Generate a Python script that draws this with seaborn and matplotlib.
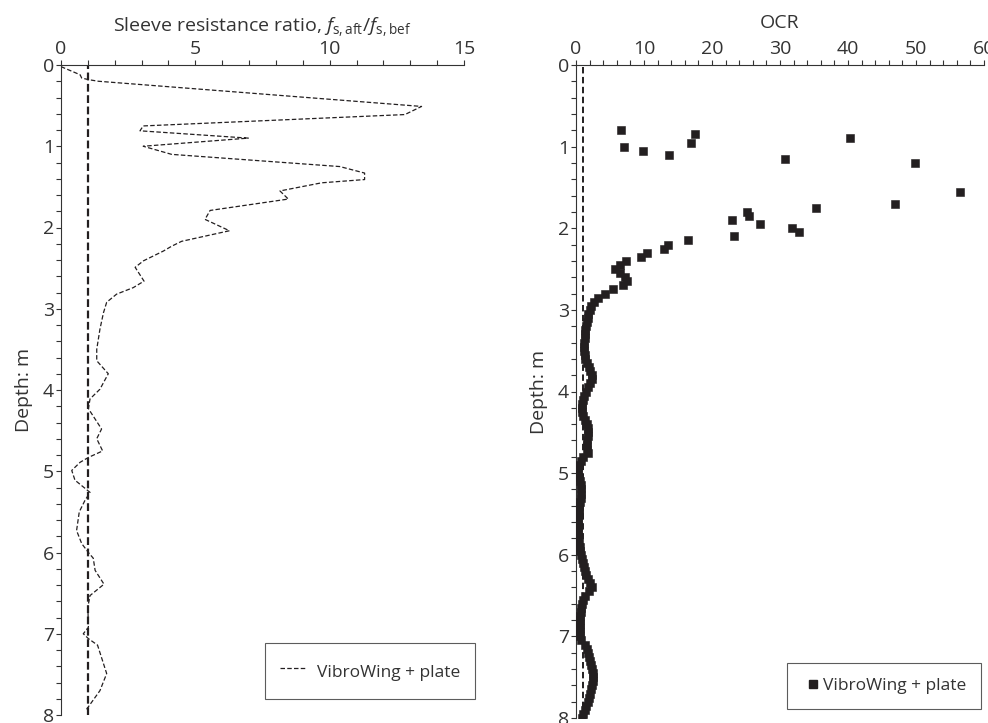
import numpy as np
import matplotlib
matplotlib.use("Agg")
import matplotlib.pyplot as plt
from matplotlib.ticker import MultipleLocator
from matplotlib.lines import Line2D
import seaborn as sns

# ── Data ────────────────────────────────────────────────────────────────────
# Left panel: sleeve resistance ratio profile
ratio_depth = [0.02, 0.12, 0.16, 0.18, 0.20, 0.51, 0.61, 0.75, 0.81, 0.90,
               1.00, 1.10, 1.25, 1.33, 1.41, 1.45, 1.55, 1.65, 1.79, 1.90,
               2.04, 2.17, 2.23, 2.29, 2.35, 2.41, 2.49, 2.66, 2.74, 2.82,
               2.92, 3.05, 3.25, 3.50, 3.64, 3.80, 3.99, 4.11, 4.23, 4.48,
               4.60, 4.75, 4.83, 4.89, 4.99, 5.11, 5.26, 5.36, 5.50, 5.73,
               5.89, 6.00, 6.07, 6.22, 6.39, 6.53, 6.67, 6.92, 7.00, 7.06,
               7.14, 7.49, 7.70, 7.94]
ratio = [0.0, 0.71, 0.77, 1.02, 1.39, 13.42, 12.8, 3.06, 2.94, 6.97,
         3.06, 4.12, 10.38, 11.3, 11.3, 9.7, 8.15, 8.46, 5.55, 5.36,
         6.27, 4.49, 4.12, 3.81, 3.44, 3.07, 2.76, 3.09, 2.69, 2.07,
         1.70, 1.58, 1.45, 1.33, 1.33, 1.76, 1.45, 1.08, 1.02, 1.51,
         1.33, 1.55, 1.02, 0.71, 0.40, 0.52, 1.08, 0.89, 0.68, 0.58,
         0.77, 1.02, 1.20, 1.27, 1.60, 1.08, 1.00, 1.02, 0.83, 1.02,
         1.36, 1.70, 1.45, 0.93]

# Right panel: OCR profile (markers every 0.05 m)
ocr_depth = [0.80, 0.85, 0.90, 0.95, 1.00, 1.05, 1.10, 1.15, 1.20, 1.55,
             1.70, 1.75, 1.80, 1.85, 1.90, 1.95, 2.00, 2.05, 2.10, 2.15,
             2.20, 2.25, 2.30, 2.35, 2.40, 2.45, 2.50, 2.55, 2.60, 2.65,
             2.70, 2.75, 2.80, 2.85, 2.90, 2.95, 3.00, 3.05, 3.10, 3.15,
             3.20, 3.25, 3.30, 3.35, 3.40, 3.45, 3.50, 3.55, 3.60, 3.65,
             3.70, 3.75, 3.80, 3.85, 3.90, 3.95, 4.00, 4.05, 4.10, 4.15,
             4.20, 4.25, 4.30, 4.35, 4.40, 4.45, 4.50, 4.55, 4.60, 4.65,
             4.70, 4.75, 4.80, 4.85, 4.90, 4.95, 5.00, 5.05, 5.10, 5.15,
             5.20, 5.25, 5.30, 5.35, 5.40, 5.45, 5.50, 5.55, 5.60, 5.65,
             5.70, 5.75, 5.80, 5.85, 5.90, 5.95, 6.00, 6.05, 6.10, 6.15,
             6.20, 6.25, 6.30, 6.35, 6.40, 6.45, 6.50, 6.55, 6.60, 6.65,
             6.70, 6.75, 6.80, 6.85, 6.90, 6.95, 7.00, 7.05, 7.10, 7.15,
             7.20, 7.25, 7.30, 7.35, 7.40, 7.45, 7.50, 7.55, 7.60, 7.65,
             7.70, 7.75, 7.80, 7.85, 7.90, 7.95, 8.00]
ocr = [6.67, 17.55, 40.3, 16.96, 7.0, 9.85, 13.7, 30.8, 49.8, 56.5,
       46.9, 35.3, 25.2, 25.4, 23.0, 27.0, 31.7, 32.8, 23.3, 16.5,
       13.6, 13.0, 10.4, 9.6, 7.4, 6.5, 5.8, 6.5, 7.2, 7.5,
       6.9, 5.4, 4.2, 3.2, 2.6, 2.2, 2.0, 1.8, 1.7, 1.6,
       1.45, 1.35, 1.3, 1.25, 1.2, 1.2, 1.2, 1.25, 1.35, 1.55,
       1.85, 2.1, 2.4, 2.3, 2.1, 1.8, 1.45, 1.2, 1.0, 0.85,
       0.85, 0.9, 1.05, 1.3, 1.6, 1.75, 1.8, 1.8, 1.65, 1.55,
       1.65, 1.8, 1.1, 0.7, 0.45, 0.35, 0.35, 0.45, 0.55, 0.7,
       0.8, 0.8, 0.7, 0.6, 0.5, 0.45, 0.4, 0.35, 0.35, 0.35,
       0.35, 0.35, 0.35, 0.45, 0.55, 0.6, 0.7, 0.85, 1.0, 1.15,
       1.3, 1.5, 1.75, 2.0, 2.3, 1.9, 1.3, 1.0, 0.85, 0.75,
       0.7, 0.65, 0.6, 0.6, 0.6, 0.6, 0.6, 0.8, 1.3, 1.6,
       1.7, 1.85, 2.0, 2.15, 2.3, 2.45, 2.55, 2.5, 2.4, 2.25,
       2.1, 1.95, 1.7, 1.45, 1.25, 1.05, 0.85]

REF_VALUE = 1.0
LEGEND_LABEL = "VibroWing + plate"
INK = "#231f20"
TEXT = "#333333"
FS = 14
LEG_FS = 12.5

# ── Style ───────────────────────────────────────────────────────────────────
sns.set_style("white")
plt.rcParams["font.family"] = ["Open Sans", "DejaVu Sans"]
plt.rcParams["font.size"] = FS
plt.rcParams["mathtext.fontset"] = "custom"
plt.rcParams["mathtext.rm"] = "Open Sans"
plt.rcParams["mathtext.it"] = "Open Sans:italic"
plt.rcParams["text.color"] = TEXT
plt.rcParams["axes.labelcolor"] = TEXT
plt.rcParams["xtick.color"] = TEXT
plt.rcParams["ytick.color"] = TEXT

fig = plt.figure(figsize=(9.88, 7.23), dpi=100)
ax1 = fig.add_axes([61 / 988, 1 - 715 / 723, 403 / 988, 650 / 723])
ax2 = fig.add_axes([576 / 988, 1 - 718 / 723, 408 / 988, 653 / 723])


def style_axis(ax, xmax, xmajor, xminor, xlabel, pad):
    ax.set_xlim(0, xmax)
    ax.set_ylim(8, 0)
    ax.xaxis.set_major_locator(MultipleLocator(xmajor))
    ax.xaxis.set_minor_locator(MultipleLocator(xminor))
    ax.yaxis.set_major_locator(MultipleLocator(1))
    ax.yaxis.set_minor_locator(MultipleLocator(0.2))
    ax.xaxis.tick_top()
    ax.xaxis.set_label_position("top")
    ax.tick_params(which="both", direction="out", length=3.5, width=0.8,
                   colors=TEXT, labelsize=FS, pad=1.5)
    ax.tick_params(axis="x", which="both", bottom=False, top=True)
    ax.tick_params(axis="y", which="both", left=True, right=False)
    for side in ("right", "bottom"):
        ax.spines[side].set_visible(False)
    for side in ("left", "top"):
        ax.spines[side].set_color(TEXT)
        ax.spines[side].set_linewidth(0.8)
    ax.set_xlabel(xlabel, fontsize=FS, labelpad=pad)
    ax.set_ylabel("Depth: m", fontsize=FS, labelpad=7)


# ── Left panel: sleeve resistance ratio ─────────────────────────────────────
sns.lineplot(x=ratio, y=ratio_depth, sort=False, estimator=None, ax=ax1,
             color=INK, lw=0.9, linestyle=(0, (3.6, 1.8)))
ax1.axvline(REF_VALUE, color=INK, lw=1.6, linestyle=(0, (3.5, 1.6)))
style_axis(ax1, 15, 5, 1,
           r"Sleeve resistance ratio, $f_{\rm s,aft}/f_{\rm s,bef}$", 6)
h1 = [Line2D([], [], color=INK, lw=0.9, linestyle=(0, (3.6, 1.8)))]
leg1 = ax1.legend(h1, [LEGEND_LABEL], loc="center",
                  bbox_to_anchor=(370 / 988, 1 - 671 / 723),
                  bbox_transform=fig.transFigure, frameon=True, fancybox=False,
                  fontsize=LEG_FS, handlelength=1.55, handletextpad=0.55,
                  handleheight=1.8, borderpad=0.9, borderaxespad=0)
leg1.get_frame().set_edgecolor(TEXT)
leg1.get_frame().set_linewidth(0.8)

# ── Right panel: OCR ────────────────────────────────────────────────────────
ax2.axvline(REF_VALUE, color=INK, lw=1.4, linestyle=(0, (3.3, 1.8)))
sns.scatterplot(x=ocr, y=ocr_depth, ax=ax2, marker="s", s=34, color=INK,
                edgecolor=INK, linewidth=0.4, zorder=3)
style_axis(ax2, 60, 10, 2, "OCR", 9)
h2 = [Line2D([], [], color=INK, marker="s", ls="none", markersize=5.5)]
leg2 = ax2.legend(h2, [LEGEND_LABEL], loc="center",
                  bbox_to_anchor=(884 / 988, 1 - 686 / 723),
                  bbox_transform=fig.transFigure, frameon=True, fancybox=False,
                  fontsize=LEG_FS, handlelength=1.3, handletextpad=-0.05,
                  borderpad=0.85, borderaxespad=0)
leg2.get_frame().set_edgecolor(TEXT)
leg2.get_frame().set_linewidth(0.8)

fig.savefig("out.png", dpi=100)
plt.close(fig)
